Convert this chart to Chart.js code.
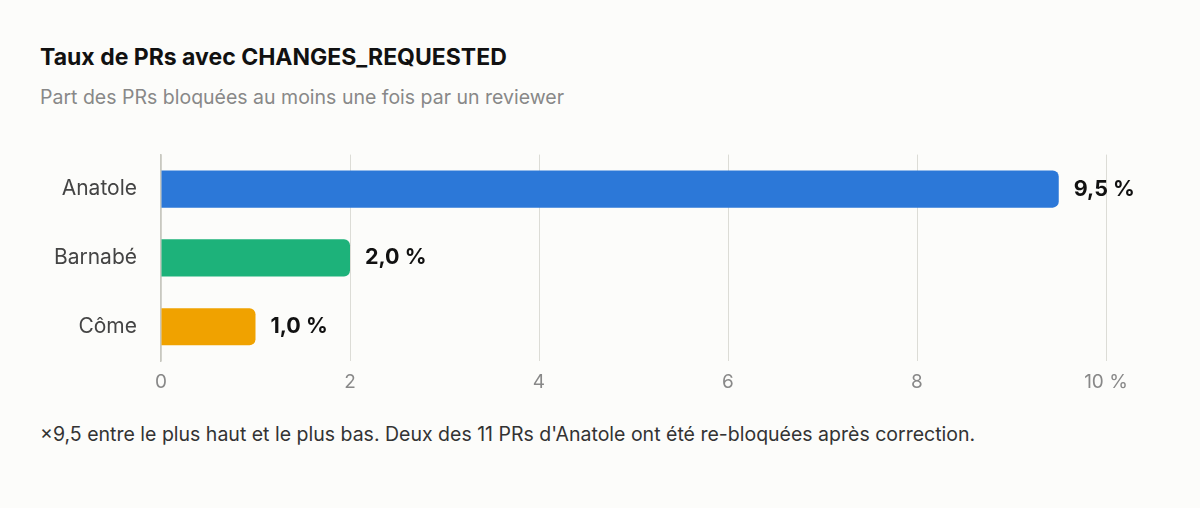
<!DOCTYPE html>
<html><head><meta charset="utf-8">
<script src="https://cdn.jsdelivr.net/npm/chart.js@4"></script>
<style>
html,body{margin:0;padding:0;background:#fcfcfa;font-family:Inter,"Noto Sans",sans-serif;}
#t{position:absolute;left:40px;top:43px;font-size:23px;font-weight:700;color:#111;}
#s{position:absolute;left:40px;top:85px;font-size:19.5px;color:#888;}
#f{position:absolute;left:40px;top:422px;font-size:19.5px;color:#333;}
#w{position:absolute;left:0;top:126px;width:1200px;height:278px;}
</style></head><body>
<div id="t">Taux de PRs avec CHANGES_REQUESTED</div>
<div id="s">Part des PRs bloquées au moins une fois par un reviewer</div>
<div id="w"><canvas id="c"></canvas></div>
<div id="f">×9,5 entre le plus haut et le plus bas. Deux des 11 PRs d'Anatole ont été re-bloquées après correction.</div>
<script>
const categories=["Anatole","Barnabé","Côme"];
const values=[9.5,2.0,1.0];
const colors=["#2c78d8","#1db27a","#f0a200"];
const tickValues=[0,2,4,6,8,10];
const valueLabels=values.map(v=>v.toFixed(1).replace('.',',')+' %');
const lbl={id:'lbl',afterDatasetsDraw(ch){const ctx=ch.ctx;const m=ch.getDatasetMeta(0);ctx.save();ctx.font='700 21.5px Inter, sans-serif';ctx.fillStyle='#111';ctx.textBaseline='middle';m.data.forEach((b,i)=>ctx.fillText(valueLabels[i],b.x+15,b.y));ctx.restore();}};
new Chart(document.getElementById('c'),{type:'bar',
data:{labels:categories,datasets:[{data:values,backgroundColor:colors,borderRadius:{topRight:6,bottomRight:6,topLeft:0,bottomLeft:0},borderSkipped:false,barPercentage:0.54,categoryPercentage:1}]},
options:{indexAxis:'y',responsive:true,maintainAspectRatio:false,animation:false,
layout:{padding:{top:10,right:94,left:0,bottom:0}},
plugins:{legend:{display:false},tooltip:{enabled:false}},
scales:{x:{min:0,max:10,afterBuildTicks(s){s.ticks=tickValues.map(v=>({value:v}));},
ticks:{color:'#888',font:{size:19,family:'Inter'},padding:10,callback:v=>v===10?'10 %':String(v)},
grid:{color:'#dcdcd6',drawTicks:false},border:{display:false}},
y:{afterFit(s){s.width=161;},ticks:{color:'#444',font:{size:21,family:'Inter'},padding:16},
grid:{display:false},border:{color:'#c8c8c0',width:1.5}}}},
plugins:[lbl]});
</script></body></html>
